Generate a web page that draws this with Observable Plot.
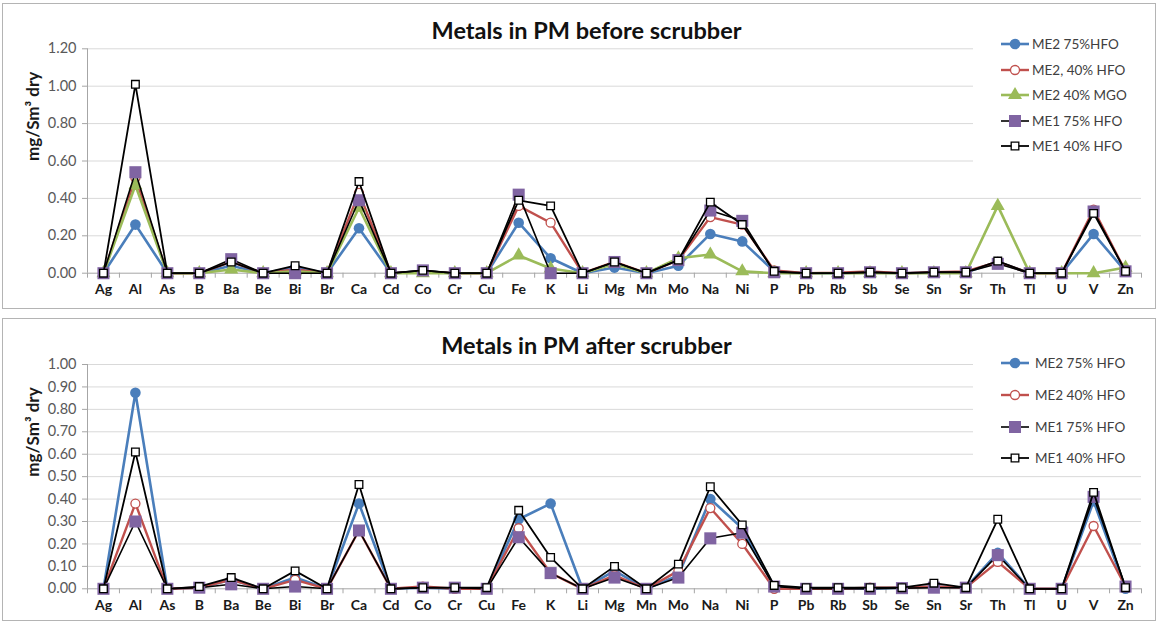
<!DOCTYPE html>
<html>
<head>
<meta charset="utf-8">
<script src="https://cdn.jsdelivr.net/npm/d3@7"></script>
<script src="https://cdn.jsdelivr.net/npm/@observablehq/plot@0.6"></script>
<style>
  html, body { margin: 0; padding: 0; background: #fff; }
  body { width: 1158px; height: 623px; position: relative; overflow: hidden; font-family: Lato, "Open Sans", sans-serif; }
  .panel { position: absolute; left: 2px; width: 1152px; border: 1px solid #b4b4b4; background: #fff; }
  .legend { position: absolute; background: #fff; }
  .legend .item { position: absolute; left: 28px; height: 20px; }
</style>
</head>
<body>
<div id="top" class="panel" style="top:3px;height:304px;"></div>
<div id="bottom" class="panel" style="top:318px;height:301px;"></div>
<script>
// ---------- data ----------
const categories = ["Ag","Al","As","B","Ba","Be","Bi","Br","Ca","Cd","Co","Cr","Cu","Fe","K","Li","Mg","Mn","Mo","Na","Ni","P","Pb","Rb","Sb","Se","Sn","Sr","Th","Tl","U","V","Zn"];

const beforeTitle = "Metals in PM before scrubber";
const afterTitle = "Metals in PM after scrubber";
const yLabel = "mg/Sm³ dry";

const beforeNames = ["ME2 75%HFO", "ME2, 40% HFO", "ME2 40% MGO", "ME1 75% HFO", "ME1 40% HFO"];
const before_ME2_75HFO = [0,0.26,0,0,0.04,0,0.03,0,0.24,0,0.01,0,0,0.27,0.08,0,0.03,0,0.04,0.21,0.17,0.01,0,0,0.005,0,0.005,0.005,0.06,0,0,0.21,0.01];
const before_ME2_40HFO = [0,0.51,0,0,0.06,0,0.02,0,0.43,0,0.01,0,0,0.36,0.27,0,0.06,0,0.07,0.30,0.26,0.015,0,0.003,0.01,0,0.005,0.01,0.06,0,0,0.34,0.01];
const before_ME2_40MGO = [0,0.47,0,0,0.02,0,0.01,0,0.35,0,0,0,0,0.095,0.025,0,0.05,0,0.08,0.10,0.01,0,0,0,0,0,0,0,0.36,0,0,0,0.03];
const before_ME1_75HFO = [0,0.54,0,0,0.075,0,0,0,0.39,0,0.015,0,0,0.42,0,0,0.06,0,0.07,0.335,0.28,0.005,0,0,0.005,0,0.005,0.005,0.05,0,0,0.33,0.01];
const before_ME1_40HFO = [0,1.01,0,0,0.06,0,0.04,0,0.49,0,0.015,0,0,0.39,0.36,0,0.06,0,0.07,0.38,0.26,0.01,0,0,0.005,0,0.005,0.005,0.065,0,0,0.32,0.01];

const afterNames = ["ME2 75% HFO", "ME2 40% HFO", "ME1 75% HFO", "ME1 40% HFO"];
const after_ME2_75HFO = [0,0.874,0,0.005,0.04,0,0.05,0,0.38,0,0.005,0,0,0.31,0.38,0,0.08,0,0.06,0.40,0.27,0.01,0,0,0,0.005,0.01,0.005,0.16,0,0,0.39,0];
const after_ME2_40HFO = [0,0.38,0,0.005,0.04,0,0.04,0,0.26,0,0.01,0,0,0.27,0.07,0,0.06,0,0.08,0.36,0.20,0,0,0,0.005,0.005,0.01,0.005,0.12,0,0,0.28,0.01];
const after_ME1_75HFO = [0,0.30,0,0.005,0.02,0,0.01,0,0.26,0,0.005,0.005,0,0.23,0.07,0,0.05,0,0.05,0.225,0.25,0.01,0,0,0,0.003,0.005,0.005,0.15,0,0,0.41,0.01];
const after_ME1_40HFO = [0,0.61,0,0.01,0.05,0,0.08,0,0.465,0,0.005,0.005,0.005,0.35,0.14,0,0.10,0,0.11,0.455,0.285,0.015,0.005,0.005,0.005,0.005,0.025,0.005,0.31,0,0,0.43,0.005];

const beforeTicks = [0,0.2,0.4,0.6,0.8,1.0,1.2];
const afterTicks = [0,0.1,0.2,0.3,0.4,0.5,0.6,0.7,0.8,0.9,1.0];

// ---------- styles ----------
const styles = {
  blue:   {line:"#4a7ebb", lw:2.6, symbol:"circle",   fill:"#4a7ebb", stroke:"none",    sw:0,   r:5.3},
  red:    {line:"#c0504d", lw:2.4, symbol:"circle",   fill:"#fff",    stroke:"#c0504d", sw:1.3, r:4.5},
  green:  {line:"#9bbb59", lw:2.6, symbol:"triangle", fill:"#9bbb59", stroke:"none",    sw:0,   r:5.2},
  purple: {line:"#000",    lw:1.6, symbol:"square",   fill:"#8064a2", stroke:"none",    sw:0,   r:6.8},
  black:  {line:"#000",    lw:1.8, symbol:"square",   fill:"#fff",    stroke:"#000",    sw:1.3, r:4.3}
};

const beforeSeries = [
  {name: beforeNames[0], values: before_ME2_75HFO, style: "blue"},
  {name: beforeNames[1], values: before_ME2_40HFO, style: "red"},
  {name: beforeNames[2], values: before_ME2_40MGO, style: "green"},
  {name: beforeNames[3], values: before_ME1_75HFO, style: "purple"},
  {name: beforeNames[4], values: before_ME1_40HFO, style: "black"}
];
const afterSeries = [
  {name: afterNames[0], values: after_ME2_75HFO, style: "blue"},
  {name: afterNames[1], values: after_ME2_40HFO, style: "red"},
  {name: afterNames[2], values: after_ME1_75HFO, style: "purple"},
  {name: afterNames[3], values: after_ME1_40HFO, style: "black"}
];

const FONT = "Lato, 'Open Sans', sans-serif";

function makePanel(el, cfg) {
  const W = 1152, H = cfg.height;
  const mL = 84, mR = 14;
  const step = (W - mL - mR) / categories.length;
  const yMax = cfg.ticks[cfg.ticks.length - 1];
  const marks = [];
  // gridlines
  marks.push(Plot.ruleY(cfg.ticks.filter(t => t > 0), {stroke: "#d9d9d9", strokeWidth: 1}));
  // y axis line
  marks.push(Plot.ruleX([categories[0]], {dx: -step / 2, y1: 0, y2: yMax, stroke: "#a6a6a6"}));
  // x axis line
  marks.push(Plot.ruleY([0], {stroke: "#a6a6a6"}));
  // category boundary ticks
  marks.push(Plot.ruleX(categories, {x: d => d, dx: -step / 2, y1: 0, y2: 0, insetBottom: -5, stroke: "#a6a6a6"}));
  marks.push(Plot.ruleX([categories[categories.length - 1]], {dx: step / 2, y1: 0, y2: 0, insetBottom: -5, stroke: "#a6a6a6"}));
  // axes
  marks.push(Plot.axisY({ticks: cfg.ticks, tickFormat: d3.format(".2f"), tickSize: 5, tickPadding: 6, stroke: "#a6a6a6", color: "#595959", fontSize: 14.5, label: null}));
  marks.push(Plot.axisX({tickSize: 0, tickPadding: 11, fontSize: 14, fontWeight: "bold", color: "#1a1a1a", label: null}));
  // series
  for (const s of cfg.series) {
    const st = styles[s.style];
    const data = categories.map((c, i) => ({cat: c, v: s.values[i]}));
    marks.push(Plot.line(data, {x: "cat", y: "v", stroke: st.line, strokeWidth: st.lw, strokeLinejoin: "round"}));
    marks.push(Plot.dot(data, {x: "cat", y: "v", symbol: st.symbol, r: st.r, fill: st.fill, stroke: st.stroke, strokeWidth: st.sw}));
  }
  // y label and title
  marks.push(Plot.text([yLabel], {frameAnchor: "left", dx: -54, rotate: -90, fontSize: 17, fontWeight: "bold", fill: "#1a1a1a"}));
  marks.push(Plot.text([cfg.title], {frameAnchor: "top", lineAnchor: "middle", dx: -28, dy: cfg.titleDy, fontSize: 23.5, fontWeight: "bold", fill: "#111"}));

  const svg = Plot.plot({
    width: W, height: H,
    marginLeft: mL, marginRight: mR, marginTop: cfg.mT, marginBottom: cfg.mB,
    style: {fontFamily: FONT, background: "transparent", overflow: "visible"},
    x: {type: "point", domain: categories, padding: 0.5, axis: null},
    y: {domain: [0, yMax], axis: null},
    marks
  });
  el.appendChild(svg);

  // legend (white box covering part of gridlines)
  const leg = document.createElement("div");
  leg.className = "legend";
  leg.style.left = cfg.legend.left + "px";
  leg.style.top = cfg.legend.top + "px";
  leg.style.width = cfg.legend.width + "px";
  leg.style.height = cfg.legend.height + "px";
  el.appendChild(leg);
  cfg.series.forEach((s, i) => {
    const st = styles[s.style];
    const div = document.createElement("div");
    div.className = "item";
    div.style.top = (cfg.legend.first + i * cfg.legend.gap - 10) + "px";
    const g = d3.create("svg").attr("width", 150).attr("height", 20).style("overflow", "visible");
    g.append("line").attr("x1", 0).attr("x2", 28).attr("y1", 10).attr("y2", 10)
      .attr("stroke", st.line).attr("stroke-width", st.lw);
    const sym = {circle: d3.symbolCircle, triangle: d3.symbolTriangle, square: d3.symbolSquare}[st.symbol];
    g.append("path").attr("d", d3.symbol(sym, Math.PI * st.r * st.r)())
      .attr("transform", "translate(14,10)")
      .attr("fill", st.fill).attr("stroke", st.stroke).attr("stroke-width", st.sw);
    g.append("text").attr("x", cfg.legend.textX).attr("y", 10).attr("dy", "0.35em")
      .attr("font-family", FONT).attr("font-size", 13.5).attr("fill", "#404040").text(s.name);
    div.appendChild(g.node());
    leg.appendChild(div);
  });
}

makePanel(document.getElementById("top"), {
  height: 304, mT: 44.3, mB: 35.3, ticks: beforeTicks, series: beforeSeries,
  title: beforeTitle, titleDy: -17,
  legend: {left: 970, top: 26, width: 178, height: 140, first: 14, gap: 25.6, textX: 31}
});
makePanel(document.getElementById("bottom"), {
  height: 301, mT: 45, mB: 31.7, ticks: afterTicks, series: afterSeries,
  title: afterTitle, titleDy: -18,
  legend: {left: 970, top: 30, width: 178, height: 125, first: 14, gap: 31.8, textX: 34}
});
</script>
</body>
</html>
